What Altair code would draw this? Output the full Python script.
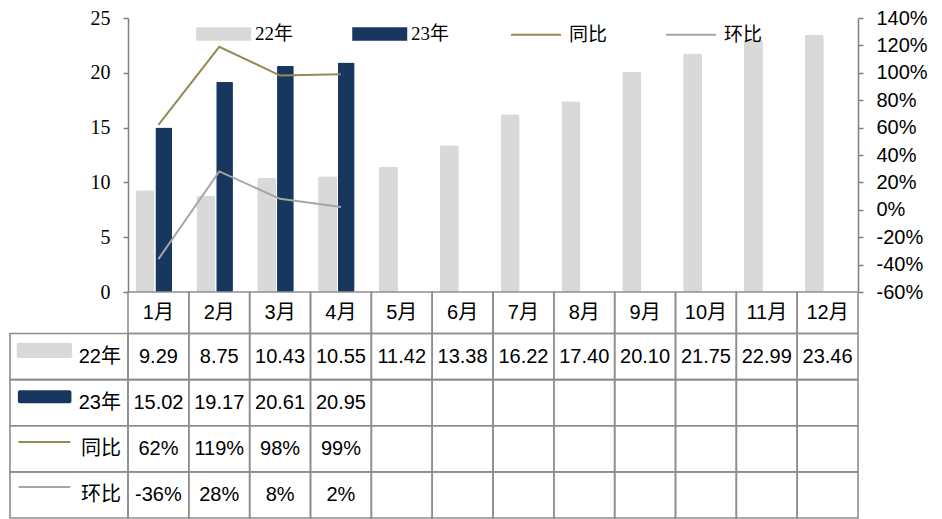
import altair as alt
import pandas as pd

months = ["1月", "2月", "3月", "4月", "5月", "6月", "7月", "8月", "9月", "10月", "11月", "12月"]
bar_series = ["22年", "23年"]
line_series = ["同比", "环比"]
v22 = [9.29, 8.75, 10.43, 10.55, 11.42, 13.38, 16.22, 17.40, 20.10, 21.75, 22.99, 23.46]
v23 = [15.02, 19.17, 20.61, 20.95]
yoy = [0.62, 1.19, 0.98, 0.99]
mom = [-0.36, 0.28, 0.08, 0.02]
left_ticks = [0, 5, 10, 15, 20, 25]
right_ticks = [-0.6, -0.4, -0.2, 0.0, 0.2, 0.4, 0.6, 0.8, 1.0, 1.2, 1.4]

C22, C23, CYOY, CMOM = "#D9D9D9", "#17375E", "#948A54", "#A6A6A6"
BORDER = "#8E8E8E"
AXC = "#808080"
SANS = "Liberation Sans, Arial, Noto Sans CJK SC, sans-serif"
SERIF = "Liberation Serif, Times New Roman, Noto Sans CJK SC, serif"

# ---------------- top chart ----------------
bar_rows = [{"month": m, "series": "22年", "value": v} for m, v in zip(months, v22)]
bar_rows += [{"month": m, "series": "23年", "value": v} for m, v in zip(months, v23)]
df_bar = pd.DataFrame(bar_rows)
line_rows = [{"month": m, "series": "同比", "value": v} for m, v in zip(months, yoy)]
line_rows += [{"month": m, "series": "环比", "value": v} for m, v in zip(months, mom)]
df_line = pd.DataFrame(line_rows)

x_enc = alt.X("month:N", sort=months,
              scale=alt.Scale(domain=months, paddingInner=0, paddingOuter=0), axis=None)
xoff = alt.XOffset("series:N", scale=alt.Scale(domain=bar_series, paddingInner=0, paddingOuter=1.0))
y_left = alt.Y("value:Q", scale=alt.Scale(domain=[0, 25], nice=False),
               axis=alt.Axis(values=left_ticks, title=None, grid=False, labelFont=SERIF,
                             labelFontSize=20, labelColor="black", domainColor=AXC, tickColor=AXC,
                             domainWidth=1.5, tickWidth=1.5, tickSize=5, labelPadding=13))
color = alt.Color("series:N", scale=alt.Scale(domain=bar_series, range=[C22, C23]),
                  legend=alt.Legend(orient="none", legendX=68, legendY=2, direction="horizontal",
                                    title=None, labelFont=SERIF, labelFontSize=19, labelColor="black",
                                    symbolType="M-1,-0.5L3,-0.5L3,0.5L-1,0.5Z", symbolSize=756,
                                    symbolStrokeWidth=0, columnPadding=58, labelOffset=31, padding=0))

base_bar = alt.Chart(df_bar).encode(x=x_enc, xOffset=xoff, y=y_left, color=color)
bar22 = base_bar.transform_filter(alt.datum.series == "22年").mark_bar(
    width=alt.RelativeBandSize(band=1.25), cornerRadius=2)
bar23 = base_bar.transform_filter(alt.datum.series == "23年").mark_bar(
    width=alt.RelativeBandSize(band=1.1), cornerRadius=1)
bars = alt.layer(bar22, bar23)

lines = alt.Chart(df_line).mark_line(strokeWidth=2).encode(
    x=x_enc,
    y=alt.Y("value:Q", scale=alt.Scale(domain=[-0.6, 1.4], nice=False, zero=False),
            axis=alt.Axis(orient="right", values=right_ticks, title=None, grid=False,
                          labelExpr="round(datum.value*100) + '%'", labelFont=SANS,
                          labelFontSize=20, labelColor="black", domainColor=AXC, tickColor=AXC,
                          domainWidth=1.5, tickWidth=1.5, tickSize=5, labelPadding=13)),
    stroke=alt.Stroke("series:N", scale=alt.Scale(domain=line_series, range=[CYOY, CMOM]),
                      legend=alt.Legend(orient="none", legendX=382, legendY=3, direction="horizontal",
                                        title=None, labelFont=SERIF, labelFontSize=19, labelColor="black",
                                        symbolType="M-1,0L3,0", symbolSize=625, symbolStrokeWidth=2,
                                        columnPadding=54, labelOffset=32, padding=0)),
)

top = alt.layer(bars, lines).resolve_scale(y="independent").properties(width=730, height=274)

# ---------------- table ----------------
HW = 1.94          # header column width in month units
MR = 0.9           # month row height in row units
row_names = ["22年", "23年", "同比", "环比"]
row_texts = [
    [f"{v:.2f}" for v in v22],
    [f"{v:.2f}" for v in v23],
    [f"{round(v * 100)}%" for v in yoy],
    [f"{round(v * 100)}%" for v in mom],
]

cells, texts, heads = [], [], []
for i, m in enumerate(months):
    cells.append({"x": i, "x2": i + 1, "y": 0, "y2": MR})
    texts.append({"x": i + 0.5, "y": MR / 2, "t": m})
for r, name in enumerate(row_names):
    y0 = MR + r
    cells.append({"x": -HW, "x2": 0, "y": y0, "y2": y0 + 1})
    heads.append({"x": 0, "y": y0 + 0.5, "t": name})
    for i in range(len(months)):
        cells.append({"x": i, "x2": i + 1, "y": y0, "y2": y0 + 1})
        if i < len(row_texts[r]):
            texts.append({"x": i + 0.5, "y": y0 + 0.5, "t": row_texts[r][i]})

sw_rect = [
    {"x": -1.83, "x2": -0.92, "y": MR + 0.5 - 0.30, "y2": MR + 0.5 + 0.03, "c": C22},
    {"x": -1.81, "x2": -0.93, "y": MR + 1.5 - 0.27, "y2": MR + 1.5 + 0.01, "c": C23},
]
sw_line = [
    {"x": -1.80, "x2": -0.95, "y": MR + 2.5 - 0.15, "c": CYOY},
    {"x": -1.80, "x2": -0.95, "y": MR + 3.5 - 0.17, "c": CMOM},
]

tx = alt.X("x:Q", scale=alt.Scale(domain=[0, 12], nice=False, zero=False), axis=None)
ty = alt.Y("y:Q", scale=alt.Scale(domain=[0, MR + 4], reverse=True, nice=False, zero=False), axis=None)

t_cells = alt.Chart(pd.DataFrame(cells)).mark_rect(fill="transparent", stroke=BORDER, strokeWidth=1.6).encode(
    x=tx, x2="x2:Q", y=ty, y2="y2:Q")
t_text = alt.Chart(pd.DataFrame(texts)).mark_text(font=SANS, fontSize=20, color="black",
                                                   align="center", baseline="middle").encode(
    x=tx, y=ty, text="t:N")
t_head = alt.Chart(pd.DataFrame(heads)).mark_text(font=SANS, fontSize=20, color="black",
                                                   align="right", baseline="middle", dx=-7).encode(
    x=tx, y=ty, text="t:N")
t_swr = alt.Chart(pd.DataFrame(sw_rect)).mark_rect(cornerRadius=2).encode(
    x=tx, x2="x2:Q", y=ty, y2="y2:Q", color=alt.Color("c:N", scale=None))
t_swl = alt.Chart(pd.DataFrame(sw_line)).mark_rule(strokeWidth=2).encode(
    x=tx, x2="x2:Q", y=ty, color=alt.Color("c:N", scale=None))

table = alt.layer(t_cells, t_swr, t_swl, t_text, t_head).properties(width=730, height=226)

chart = alt.vconcat(top, table, spacing=0, bounds="flush").properties(
    padding={"left": 1, "top": 0, "right": 5, "bottom": 0}
).configure_view(strokeWidth=0)

chart.save("out.html", embed_options={"renderer": "svg", "actions": False})
